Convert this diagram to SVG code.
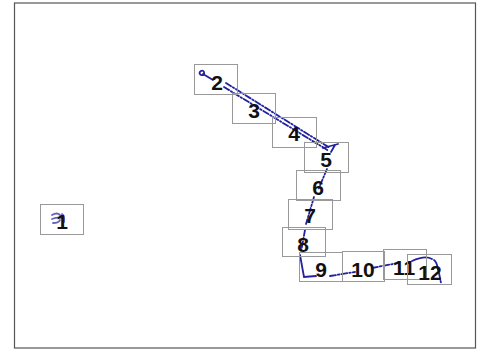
<svg xmlns="http://www.w3.org/2000/svg" width="477" height="351" viewBox="0 0 477 351">
<style>
.frame{fill:#fff;stroke:#555;stroke-width:1.2}
.box{fill:none;stroke:#999;stroke-width:1}
.lbl{font-family:"Liberation Sans",Arial,sans-serif;font-weight:bold;font-size:21px;fill:#111;text-anchor:middle}
.c{fill:none;stroke:#2222a0;stroke-width:1.8;stroke-linecap:round}
.d{stroke-dasharray:6 2 1.5 2}
</style>
<rect width="477" height="351" fill="#fff"/>
<rect class="frame" x="14.5" y="3" width="461" height="345"/>
<g id="connectors">
<path class="c" d="M201,71 q-3,2 0,4 q4,1 3,-3 q-1,-2 -3,-1 M203,74 L213,80"/>
<path class="c d" d="M224,87 L329,151 M226,83 L330,148"/>
<path class="c" d="M323,148 L338,144 M335,145 L331,152" stroke-width="1.3"/>
<path class="c d" d="M327,169 L318,190 M314,197 L306,224 M305,230 L301,252"/>
<path class="c" d="M300,255 L304,277 L316,276"/>
<path class="c d" d="M330,276 L355,272 M372,268 L398,263"/>
<path class="c" d="M412,261 Q425,255 432,259 M434,260 Q437,262 438,270" />
<path class="c d" d="M439,273 L441,283" stroke-width="1.3"/>
<path class="c" d="M52,215 q5,-3 8,0 M52,219 q6,-2 9,-1 M53,223 q6,0 7,-3 M62,214 q3,2 2,8" stroke-width="1" opacity="0.7"/>
</g>
<g id="n1"><rect class="box" x="40.5" y="204.5" width="43" height="30"/><text class="lbl" x="62" y="229">1</text></g>
<g id="n2"><rect class="box" x="194.5" y="64.5" width="43" height="30"/><text class="lbl" x="217" y="90">2</text></g>
<g id="n3"><rect class="box" x="232.5" y="93.5" width="43" height="30"/><text class="lbl" x="254" y="118">3</text></g>
<g id="n4"><rect class="box" x="272.5" y="117.5" width="44" height="30"/><text class="lbl" x="294" y="141">4</text></g>
<g id="n5"><rect class="box" x="304.5" y="142.5" width="44" height="30"/><text class="lbl" x="326" y="167">5</text></g>
<g id="n6"><rect class="box" x="296.5" y="170.5" width="44" height="30"/><text class="lbl" x="318" y="195">6</text></g>
<g id="n7"><rect class="box" x="288.5" y="199.5" width="44" height="30"/><text class="lbl" x="310" y="223">7</text></g>
<g id="n8"><rect class="box" x="282.5" y="227.5" width="43" height="29"/><text class="lbl" x="303" y="252">8</text></g>
<g id="n9"><rect class="box" x="299.5" y="252.5" width="43" height="29"/><text class="lbl" x="321" y="277">9</text></g>
<g id="n10"><rect class="box" x="342.5" y="251.5" width="42" height="30"/><text class="lbl" x="363" y="277">10</text></g>
<g id="n11"><rect class="box" x="383.5" y="249.5" width="43" height="30"/><text class="lbl" x="404" y="275">11</text></g>
<g id="n12"><rect class="box" x="407.5" y="254.5" width="44" height="30"/><text class="lbl" x="430" y="280">12</text></g>
</svg>
